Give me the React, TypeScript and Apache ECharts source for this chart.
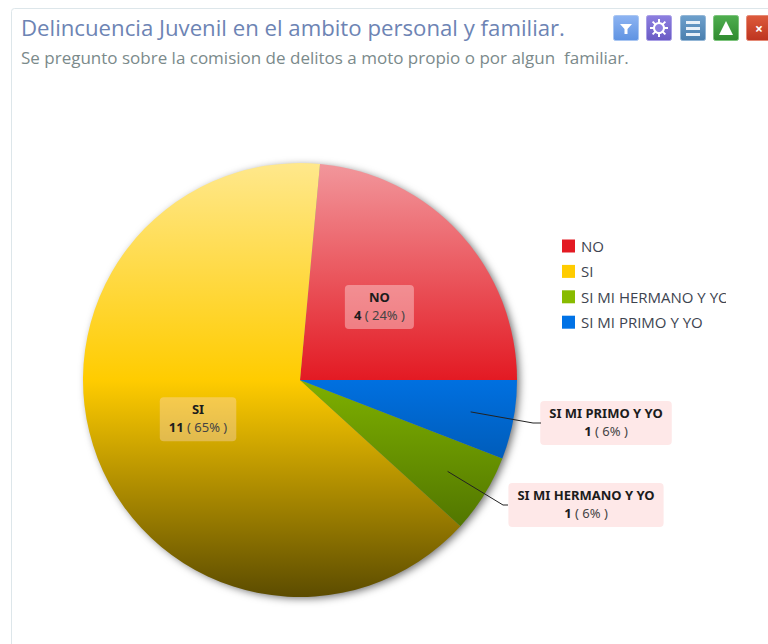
import React, { useEffect, useRef } from "react";
import * as echarts from "echarts";

const titleText = "Delincuencia Juvenil en el ambito personal y familiar.";
const subtitleText = "Se pregunto sobre la comision de delitos a moto propio o por algun  familiar.";
const categories = ["NO", "SI", "SI MI HERMANO Y YO", "SI MI PRIMO Y YO"];
const counts = [4, 11, 1, 1];
const percents = [24, 65, 6, 6];
const legendColors = ["#e31a23", "#ffcc00", "#88bb00", "#0072e6"];
const topColors = ["#f2979c", "#ffe88c", "#b0dc50", "#4da0f5"];
const midColors = ["#e31a23", "#ffcc00", "#7eb000", "#0070e0"];
const bottomColors = ["#6e0a10", "#5c4c00", "#3c5a00", "#003a78"];

const CX = 300, CY = 380, R = 217;

function fill(i: number) {
  return {
    type: "linear", global: true, x: 0, y: CY - R, x2: 0, y2: CY + R,
    colorStops: [
      { offset: 0, color: topColors[i] },
      { offset: 0.5, color: midColors[i] },
      { offset: 1, color: bottomColors[i] },
    ],
  };
}

function icon(x: number, c1: string, c2: string, border: string, glyph: any[]) {
  return {
    type: "group", x, y: 15, z: 20,
    children: [
      { type: "rect", shape: { x: 0.5, y: 0.5, width: 25, height: 25, r: 2 },
        style: { fill: { type: "linear", x: 0, y: 0, x2: 0, y2: 1, colorStops: [{ offset: 0, color: c1 }, { offset: 1, color: c2 }] }, stroke: border, lineWidth: 1 } },
      ...glyph,
    ],
  };
}

const gearSpokes = [0, 45, 90, 135].map((a) => {
  const t = (a * Math.PI) / 180;
  return { type: "line", shape: { x1: 13 - 9 * Math.cos(t), y1: 13 - 9 * Math.sin(t), x2: 13 + 9 * Math.cos(t), y2: 13 + 9 * Math.sin(t) }, style: { stroke: "#fff", lineWidth: 2 } };
});

// leader line: starts inside the slice at 80% of the radius, on the slice's mid angle
function leader(i: number, knee: number[], end: number[]) {
  const total = counts.reduce((a, b) => a + b, 0);
  const before = counts.slice(0, i).reduce((a, b) => a + b, 0);
  const mid = ((before + counts[i] / 2) / total) * 2 * Math.PI;
  const start = [CX + 0.8 * R * Math.cos(mid), CY - 0.8 * R * Math.sin(mid)];
  return { type: "polyline", z: 15, shape: { points: [start, knee, end] }, style: { stroke: "#222", lineWidth: 1, fill: "none" } };
}

const graphics: any[] = [
  { type: "rect", z: -1, shape: { x: 11.5, y: 8.5, width: 780, height: 660, r: 3 }, style: { fill: "#fff", stroke: "#dde6ea", lineWidth: 1 } },
  icon(613, "#8db4f2", "#5f93e2", "#a9c6f2", [
    { type: "polygon", shape: { points: [[7, 9], [19, 9], [14.5, 14], [14.5, 19], [11.5, 19], [11.5, 14]] }, style: { fill: "#fff" } },
  ]),
  icon(646, "#8d7fe0", "#6a5bc4", "#a99fe6", [
    ...gearSpokes,
    { type: "circle", shape: { cx: 13, cy: 13, r: 5 }, style: { fill: "#8d7fe0", stroke: "#fff", lineWidth: 2 } },
  ]),
  icon(680, "#6ea0cc", "#4a7fae", "#93b6d6", [
    { type: "rect", shape: { x: 6, y: 6, width: 14, height: 3 }, style: { fill: "#e8f0f8" } },
    { type: "rect", shape: { x: 6, y: 12, width: 14, height: 3 }, style: { fill: "#e8f0f8" } },
    { type: "rect", shape: { x: 6, y: 18, width: 14, height: 3 }, style: { fill: "#e8f0f8" } },
  ]),
  icon(713, "#4fae4f", "#2f8a2f", "#7cc47c", [
    { type: "polygon", shape: { points: [[13, 6], [20, 20], [6, 20]] }, style: { fill: "#fff" } },
  ]),
  icon(746, "#dd5a3c", "#bd3420", "#e58a76", [
    { type: "text", style: { x: 13, y: 13, text: "×", fill: "#fff", font: "bold 14px 'Open Sans'", align: "center", verticalAlign: "middle" } },
  ]),
  leader(3, [533, 423], [541, 423]),
  leader(2, [503, 505], [508, 505]),
  // the reference's legend clips the last letter of its longest entry
  { type: "rect", z: 30, shape: { x: 726, y: 288, width: 12, height: 20 }, style: { fill: "#fff" } },
];

const inside = (i: number) => i < 2;

export default function App() {
  const ref = useRef<HTMLDivElement>(null);
  useEffect(() => {
    const chart = echarts.init(ref.current!, undefined, { renderer: "svg" });
    const total = counts.reduce((a, b) => a + b, 0);
    chart.setOption({
      animation: false,
      backgroundColor: "#fff",
      title: {
        text: titleText, subtext: subtitleText, left: 16, top: 11, itemGap: 11,
        textStyle: { fontFamily: "Open Sans", fontSize: 22.2, fontWeight: "normal", color: "#6d84b4" },
        subtextStyle: { fontFamily: "Open Sans", fontSize: 17, color: "#7b8a8b" },
      },
      legend: {
        orient: "vertical", left: 557, top: 233.5, itemWidth: 13, itemHeight: 13, itemGap: 10.4, icon: "rect",
        selectedMode: false,
        data: categories.map((name, i) => ({ name, itemStyle: { color: legendColors[i] } })),
        textStyle: { fontFamily: "Open Sans", fontSize: 15, color: "#3d4450", padding: [0, 0, 0, 1] },
      },
      graphic: { elements: graphics },
      series: [
        {
          type: "pie", silent: true, center: [CX, CY], radius: R - 1, label: { show: false }, labelLine: { show: false },
          data: [{ value: total, name: "total", itemStyle: { color: "#888", shadowBlur: 8, shadowColor: "rgba(0,0,0,0.6)", shadowOffsetX: 3, shadowOffsetY: 2 } }],
        },
        {
          type: "pie", center: [CX, CY], radius: R, startAngle: 0, clockwise: false, silent: true,
          avoidLabelOverlap: false,
          data: categories.map((name, i) => ({
            name, value: counts[i], itemStyle: { color: fill(i) },
            label: {
              position: inside(i) ? "inside" : "outside",
              backgroundColor: inside(i) ? (i === 0 ? "rgba(255,235,235,0.4)" : "rgba(255,220,220,0.35)") : "#fee8e8",
            },
            labelLine: { show: false },
          })),
          label: {
            show: true, borderRadius: 4, padding: [3, 9, 5, 9], align: "center",
            formatter: (p: any) => `{n|${p.name}}\n{v|${counts[p.dataIndex]}}{p| ( ${percents[p.dataIndex]}% )}`,
            rich: {
              n: { fontFamily: "Noto Sans", fontSize: 13, fontWeight: "bold", color: "#1c1c1c", lineHeight: 18, align: "center" },
              v: { fontFamily: "Noto Sans", fontSize: 13, fontWeight: "bold", color: "#1c1c1c", lineHeight: 18 },
              p: { fontFamily: "Noto Sans", fontSize: 13, color: "#444", lineHeight: 18 },
            },
          },
          labelLayout: (p: any) => {
            if (p.dataIndex === 3) return { x: 606, y: 423, align: "center", verticalAlign: "middle" };
            if (p.dataIndex === 2) return { x: 586, y: 505, align: "center", verticalAlign: "middle" };
            if (p.dataIndex === 0) return { dx: -3, dy: 2 };
            return { dx: 2, dy: -1 };
          },
        },
      ],
    });
    return () => chart.dispose();
  }, []);
  return <div ref={ref} style={{ position: "fixed", left: 0, top: 0, width: 768, height: 644 }} />;
}
